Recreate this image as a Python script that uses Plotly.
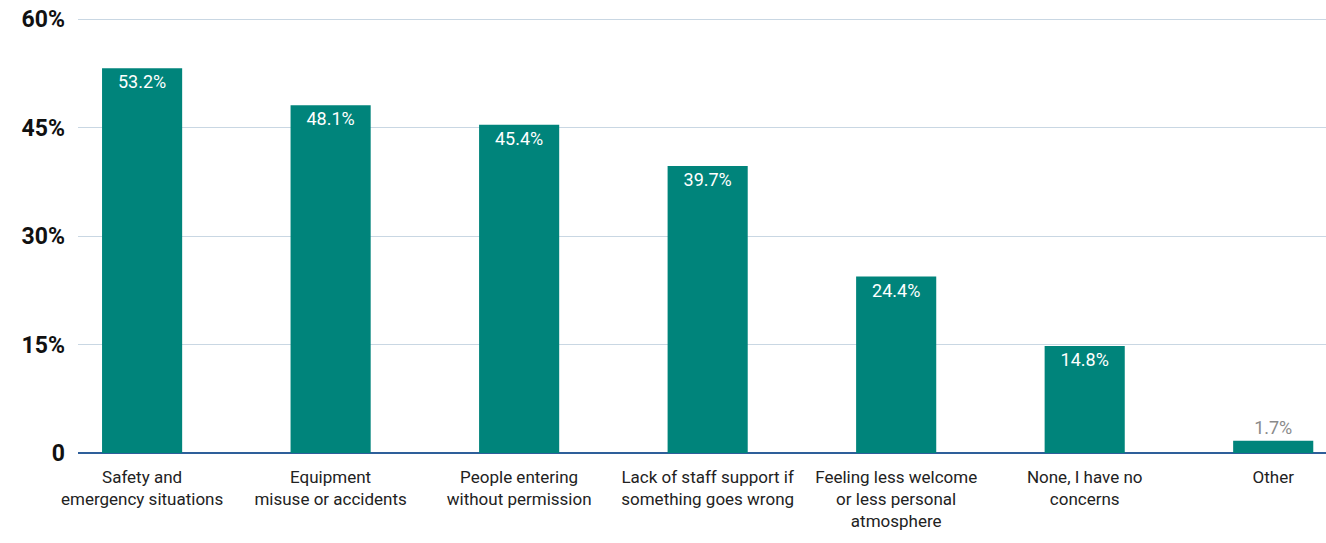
import plotly.graph_objects as go

categories = [
    "Safety and<br>emergency situations",
    "Equipment<br>misuse or accidents",
    "People entering<br>without permission",
    "Lack of staff support if<br>something goes wrong",
    "Feeling less welcome<br>or less personal<br>atmosphere",
    "None, I have no<br>concerns",
    "Other",
]
values = [53.2, 48.1, 45.4, 39.7, 24.4, 14.8, 1.7]
y_ticks = [0, 15, 30, 45, 60]
y_tick_labels = ["0", "15%", "30%", "45%", "60%"]

FONT = "Roboto, sans-serif"
labels = [f"{v}%" for v in values]
positions = ["inside" if v > 5 else "outside" for v in values]
text_colors = ["white" if v > 5 else "#8a8a8a" for v in values]

x_idx = list(range(len(categories)))

fig = go.Figure(go.Bar(
    x=x_idx,
    y=values,
    width=0.425,
    marker=dict(color="#00847B", line=dict(width=0)),
    text=labels,
    textposition=positions,
    insidetextanchor="end",
    textfont=dict(family=FONT, size=18, color=text_colors),
    cliponaxis=False,
    hoverinfo="skip",
))

fig.update_layout(
    width=1326, height=543,
    margin=dict(l=78, r=0, t=18, b=90),
    paper_bgcolor="white", plot_bgcolor="white",
    showlegend=False,
    uniformtext=dict(minsize=8, mode="show"),
    xaxis=dict(
        range=[-0.34, 6.28],
        tickmode="array", tickvals=x_idx, ticktext=categories,
        tickfont=dict(family=FONT, size=17, color="#222222"),
        showgrid=False, zeroline=False, automargin=False,
        showline=False, ticks="", ticklabelstandoff=12,
    ),
    yaxis=dict(
        range=[0, 60.15],
        tickmode="array", tickvals=y_ticks, ticktext=y_tick_labels,
        tickfont=dict(family=FONT, size=23, color="#111111", weight="bold"),
        showgrid=True, gridcolor="#C9D7E3", gridwidth=1, automargin=False,
        zeroline=True, zerolinecolor="#2E5F9A", zerolinewidth=2,
        ticks="", ticklabelstandoff=12,
    ),
)

fig.write_html(
    "out.html",
    config={"displayModeBar": False},
    post_script="document.body.style.margin='0';document.body.style.overflow='hidden';",
)
